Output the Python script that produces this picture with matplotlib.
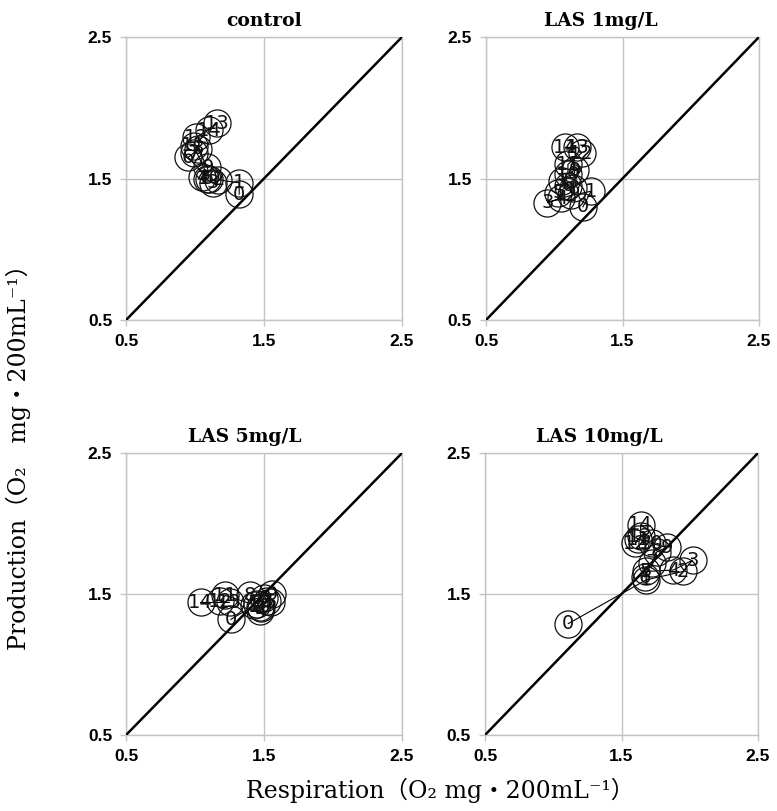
import matplotlib
matplotlib.use("Agg")
import matplotlib.pyplot as plt

# respiration (x) / production (y) per day, days 0..14
days = list(range(15))

control_resp = [1.32, 1.32, 1.17, 1.13, 1.05, 1.09, 0.95, 0.99, 1.02, 1.09, 1.10, 0.99, 1.01, 1.16, 1.10]
control_prod = [1.39, 1.47, 1.49, 1.47, 1.51, 1.50, 1.65, 1.68, 1.71, 1.58, 1.50, 1.73, 1.79, 1.89, 1.84]

las1_resp = [1.21, 1.27, 1.12, 0.95, 1.05, 1.03, 1.10, 1.06, 1.14, 1.15, 1.10, 1.10, 1.20, 1.17, 1.08]
las1_prod = [1.30, 1.41, 1.38, 1.33, 1.36, 1.40, 1.45, 1.48, 1.43, 1.56, 1.53, 1.60, 1.68, 1.72, 1.72]

las5_resp = [1.26, 1.43, 1.48, 1.52, 1.47, 1.55, 1.50, 1.45, 1.40, 1.56, 1.47, 1.22, 1.18, 1.25, 1.04]
las5_prod = [1.32, 1.42, 1.40, 1.45, 1.38, 1.44, 1.47, 1.43, 1.49, 1.50, 1.41, 1.49, 1.45, 1.44, 1.44]

las10_resp = [1.11, 1.68, 1.95, 2.02, 1.88, 1.68, 1.67, 1.72, 1.76, 1.83, 1.72, 1.62, 1.60, 1.64, 1.64]
las10_prod = [1.29, 1.60, 1.66, 1.74, 1.67, 1.66, 1.62, 1.72, 1.80, 1.83, 1.86, 1.89, 1.86, 1.91, 1.99]

titles = ["control", "LAS 1mg/L", "LAS 5mg/L", "LAS 10mg/L"]
ticks = [0.5, 1.5, 2.5]

serif = ["DejaVu Serif", "Noto Sans CJK JP"]
grid_col = "#c4c4c4"

fig = plt.figure(figsize=(7.77, 8.11), dpi=100)

boxes = [
    [0.1622, 0.6054, 0.3552, 0.3490],
    [0.6255, 0.6054, 0.3514, 0.3490],
    [0.1622, 0.0937, 0.3552, 0.3477],
    [0.6242, 0.0937, 0.3514, 0.3477],
]
title_x = [0.5, 0.42, 0.43, 0.42]
series = [
    (control_resp, control_prod),
    (las1_resp, las1_prod),
    (las5_resp, las5_prod),
    (las10_resp, las10_prod),
]

for box, title, tx, (xs, ys) in zip(boxes, titles, title_x, series):
    ax = fig.add_axes(box)
    ax.set_xlim(0.5, 2.5)
    ax.set_ylim(0.5, 2.5)
    ax.set_xticks(ticks)
    ax.set_yticks(ticks)
    ax.set_xticklabels([f"{t:.1f}" for t in ticks], fontsize=12.5,
                       fontweight="bold", family="Liberation Sans")
    ax.set_yticklabels([f"{t:.1f}" for t in ticks], fontsize=12.5,
                       fontweight="bold", family="Liberation Sans")
    ax.tick_params(direction="out", length=4, color=grid_col, width=1,
                   pad=6)
    ax.grid(True, color=grid_col, lw=1)
    for s in ax.spines.values():
        s.set_color(grid_col)
        s.set_linewidth(1)

    # 1:1 line
    ax.plot([0.5, 2.5], [0.5, 2.5], color="black", lw=1.8, zorder=3)

    ax.plot(xs, ys, color="black", lw=0.8, marker="o", ms=19.5,
            mfc="none", mec="#111111", mew=0.9, zorder=4)
    for d, x, y in zip(days, xs, ys):
        ax.text(x, y, str(d), ha="center", va="center", fontsize=14,
                color="#111111", family="DejaVu Sans", zorder=5)

    ax.text(tx, 1.025, title, transform=ax.transAxes, ha="center",
            va="bottom", fontsize=13.5, fontweight="bold", family=serif)

fig.text(0.566, 0.026, "Respiration（O₂ mg・200mL⁻¹）", ha="center",
         va="center", fontsize=17, family=serif)
fig.text(0.024, 0.443, "Production（O₂　mg・200mL⁻¹）", ha="center",
         va="center", rotation=90, fontsize=17, family=serif)

fig.savefig("out.png", dpi=100)
